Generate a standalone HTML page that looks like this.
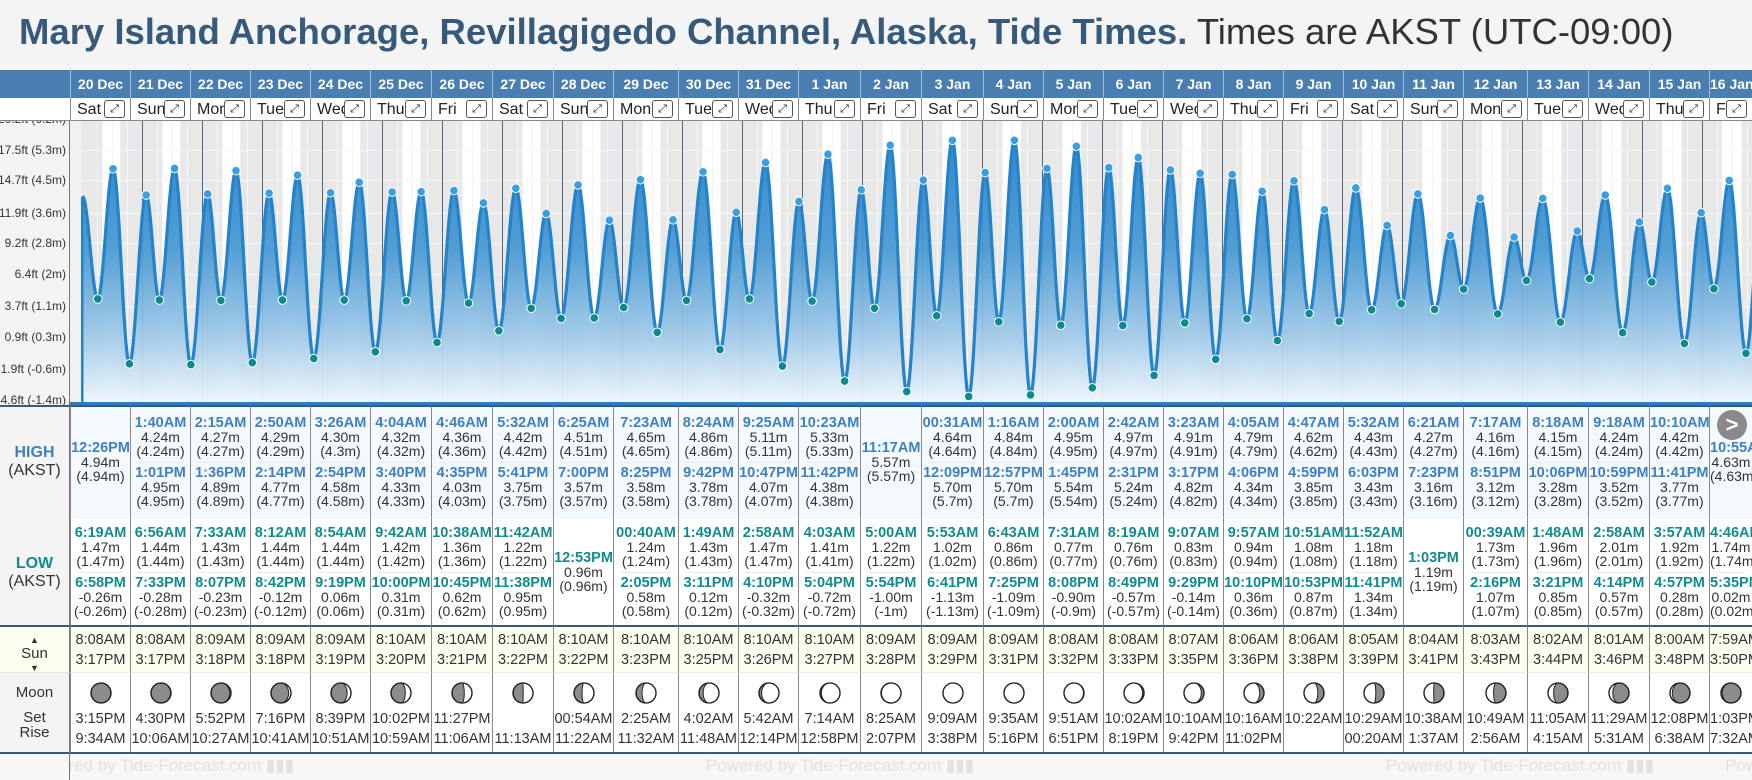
<!DOCTYPE html>
<html><head><meta charset="utf-8">
<style>
*{margin:0;padding:0;box-sizing:border-box}
body{width:1752px;height:780px;overflow:hidden;background:#f4f4f4;font-family:"Liberation Sans",Arial,sans-serif;position:relative;color:#333}
.abs{position:absolute}
#title{left:19px;top:12px;font-size:36.5px;line-height:40px;white-space:nowrap;color:#333}
#title b{color:#375a7a}
.hdr{position:absolute;top:70px;height:28px;background:#4a7db0;color:#fff;font-weight:bold;font-size:14px;line-height:28px;text-align:center;border-left:1px solid #9dbad6;overflow:hidden;white-space:nowrap}
.dow{position:absolute;top:98px;height:23px;background:#fff;font-size:16px;line-height:23px;border-left:1px solid #888;border-bottom:1px solid #888;color:#222;padding-left:6px;overflow:hidden;white-space:nowrap}
.dow .ex{position:absolute;right:5px;top:2px;width:21px;height:18px;border:1px solid #555;border-radius:3px;font-size:11px;line-height:16px;text-align:center;background:#fff}
.col{position:absolute;border-left:1px solid #888;text-align:center;display:flex;flex-direction:column;justify-content:center;align-items:stretch;overflow:hidden;white-space:nowrap}
.ent{height:42px}
.ent .t{font-weight:bold;font-size:14.5px;line-height:14px}
.ent .v{font-size:14px;line-height:14px}
.sep{height:1px;background:#e4ebf2;margin:4px 7px 3px}
.hi .t{color:#3f80c2}
.lo .t{color:#128b8e}
.sun{font-size:14.5px;line-height:20px}
.lab{position:absolute;left:0;width:70px;text-align:center;border-right:1px solid #777}
.foot{position:absolute;top:752px;font-size:17px;color:#e2e2e2;white-space:nowrap;line-height:28px;overflow:hidden}
</style></head><body>
<div id="title" class="abs"><b>Mary Island Anchorage, Revillagigedo Channel, Alaska, Tide Times.</b> Times are AKST (UTC-09:00)</div>

<svg class="abs" style="left:0;top:121px" width="1752" height="284" viewBox="0 121 1752 284" id="chart"></svg>

<div class="abs" style="left:0;top:70px;width:70px;height:28px;background:#4a7db0"></div>
<div class="abs" style="left:0;top:98px;width:70px;height:23px;background:#fff;border-bottom:1px solid #888"></div>

<div class="lab" style="top:405px;height:112px;background:#f4f4f4;border-top:2px solid #3a5a78;padding-top:37px;font-size:16px;line-height:18px"><b style="color:#3f80c2">HIGH</b><br>(AKST)</div>
<div class="lab" style="top:517px;height:108px;background:#f4f4f4;padding-top:38px;font-size:16px;line-height:18px"><b style="color:#128b8e">LOW</b><br>(AKST)</div>
<div class="lab" style="top:625px;height:47px;background:#fdfdf0;border-top:2px solid #3a5a78;font-size:15px;line-height:13px;padding-top:5px"><span style="font-size:9px">▲</span><br>Sun<br><span style="font-size:9px">▼</span></div>
<div class="lab" style="top:672px;height:80px;background:#f4f4f4;border-top:1px solid #e6e6e6;font-size:15px;line-height:20px;padding-top:10px">Moon<br><span style="line-height:30px">Set</span><br><span style="position:relative;top:-10px">Rise</span></div>
<div class="abs" style="left:0;top:752px;width:1752px;height:28px;background:#f7f7f7;border-top:2px solid #3a5a78"></div>
<div class="abs" style="left:69px;top:752px;width:1px;height:28px;background:#777"></div>

<div id="cols"></div>

<div class="foot" style="left:70px;width:240px"><span style="margin-left:-44px">Powered by Tide-Forecast.com ▮▮▮</span></div>
<div class="foot" style="left:706px">Powered by Tide-Forecast.com ▮▮▮</div>
<div class="foot" style="left:1386px">Powered by Tide-Forecast.com ▮▮▮</div>
<div class="foot" style="left:1725px;width:27px">Powered</div>

<div class="abs" style="left:1717px;top:410px;width:30px;height:30px;border-radius:50%;background:#8a8a8a;color:#fff;font-weight:bold;font-size:22px;line-height:30px;text-align:center">&gt;</div>

<script>
var D=[
["20 Dec",[["12:26PM","4.94"]],[["6:19AM","1.47"],["6:58PM","-0.26"]],"8:08AM","3:17PM","3:15PM","9:34AM"],
["21 Dec",[["1:40AM","4.24"],["1:01PM","4.95"]],[["6:56AM","1.44"],["7:33PM","-0.28"]],"8:08AM","3:17PM","4:30PM","10:06AM"],
["22 Dec",[["2:15AM","4.27"],["1:36PM","4.89"]],[["7:33AM","1.43"],["8:07PM","-0.23"]],"8:09AM","3:18PM","5:52PM","10:27AM"],
["23 Dec",[["2:50AM","4.29"],["2:14PM","4.77"]],[["8:12AM","1.44"],["8:42PM","-0.12"]],"8:09AM","3:18PM","7:16PM","10:41AM"],
["24 Dec",[["3:26AM","4.30"],["2:54PM","4.58"]],[["8:54AM","1.44"],["9:19PM","0.06"]],"8:09AM","3:19PM","8:39PM","10:51AM"],
["25 Dec",[["4:04AM","4.32"],["3:40PM","4.33"]],[["9:42AM","1.42"],["10:00PM","0.31"]],"8:10AM","3:20PM","10:02PM","10:59AM"],
["26 Dec",[["4:46AM","4.36"],["4:35PM","4.03"]],[["10:38AM","1.36"],["10:45PM","0.62"]],"8:10AM","3:21PM","11:27PM","11:06AM"],
["27 Dec",[["5:32AM","4.42"],["5:41PM","3.75"]],[["11:42AM","1.22"],["11:38PM","0.95"]],"8:10AM","3:22PM","","11:13AM"],
["28 Dec",[["6:25AM","4.51"],["7:00PM","3.57"]],[["12:53PM","0.96"]],"8:10AM","3:22PM","00:54AM","11:22AM"],
["29 Dec",[["7:23AM","4.65"],["8:25PM","3.58"]],[["00:40AM","1.24"],["2:05PM","0.58"]],"8:10AM","3:23PM","2:25AM","11:32AM"],
["30 Dec",[["8:24AM","4.86"],["9:42PM","3.78"]],[["1:49AM","1.43"],["3:11PM","0.12"]],"8:10AM","3:25PM","4:02AM","11:48AM"],
["31 Dec",[["9:25AM","5.11"],["10:47PM","4.07"]],[["2:58AM","1.47"],["4:10PM","-0.32"]],"8:10AM","3:26PM","5:42AM","12:14PM"],
["1 Jan",[["10:23AM","5.33"],["11:42PM","4.38"]],[["4:03AM","1.41"],["5:04PM","-0.72"]],"8:10AM","3:27PM","7:14AM","12:58PM"],
["2 Jan",[["11:17AM","5.57"]],[["5:00AM","1.22"],["5:54PM","-1.00"]],"8:09AM","3:28PM","8:25AM","2:07PM"],
["3 Jan",[["00:31AM","4.64"],["12:09PM","5.70"]],[["5:53AM","1.02"],["6:41PM","-1.13"]],"8:09AM","3:29PM","9:09AM","3:38PM"],
["4 Jan",[["1:16AM","4.84"],["12:57PM","5.70"]],[["6:43AM","0.86"],["7:25PM","-1.09"]],"8:09AM","3:31PM","9:35AM","5:16PM"],
["5 Jan",[["2:00AM","4.95"],["1:45PM","5.54"]],[["7:31AM","0.77"],["8:08PM","-0.90"]],"8:08AM","3:32PM","9:51AM","6:51PM"],
["6 Jan",[["2:42AM","4.97"],["2:31PM","5.24"]],[["8:19AM","0.76"],["8:49PM","-0.57"]],"8:08AM","3:33PM","10:02AM","8:19PM"],
["7 Jan",[["3:23AM","4.91"],["3:17PM","4.82"]],[["9:07AM","0.83"],["9:29PM","-0.14"]],"8:07AM","3:35PM","10:10AM","9:42PM"],
["8 Jan",[["4:05AM","4.79"],["4:06PM","4.34"]],[["9:57AM","0.94"],["10:10PM","0.36"]],"8:06AM","3:36PM","10:16AM","11:02PM"],
["9 Jan",[["4:47AM","4.62"],["4:59PM","3.85"]],[["10:51AM","1.08"],["10:53PM","0.87"]],"8:06AM","3:38PM","10:22AM",""],
["10 Jan",[["5:32AM","4.43"],["6:03PM","3.43"]],[["11:52AM","1.18"],["11:41PM","1.34"]],"8:05AM","3:39PM","10:29AM","00:20AM"],
["11 Jan",[["6:21AM","4.27"],["7:23PM","3.16"]],[["1:03PM","1.19"]],"8:04AM","3:41PM","10:38AM","1:37AM"],
["12 Jan",[["7:17AM","4.16"],["8:51PM","3.12"]],[["00:39AM","1.73"],["2:16PM","1.07"]],"8:03AM","3:43PM","10:49AM","2:56AM"],
["13 Jan",[["8:18AM","4.15"],["10:06PM","3.28"]],[["1:48AM","1.96"],["3:21PM","0.85"]],"8:02AM","3:44PM","11:05AM","4:15AM"],
["14 Jan",[["9:18AM","4.24"],["10:59PM","3.52"]],[["2:58AM","2.01"],["4:14PM","0.57"]],"8:01AM","3:46PM","11:29AM","5:31AM"],
["15 Jan",[["10:10AM","4.42"],["11:41PM","3.77"]],[["3:57AM","1.92"],["4:57PM","0.28"]],"8:00AM","3:48PM","12:08PM","6:38AM"],
["16 Jan",[["10:55AM","4.63"]],[["4:46AM","1.74"],["5:35PM","0.02"]],"7:59AM","3:50PM","1:03PM","7:32AM"]
];
var DOW=["Sat","Sun","Mon","Tue","Wed","Thu","Fri"];
var X=[70,130,190,250,310,370,431,492,553,613,678,738,798,860,921,983,1043,1103,1163,1223,1283,1343,1403,1463,1527,1588,1649,1709,1752];
function hrs(s){var m=s.match(/(\d+):(\d+)(AM|PM)/);var h=+m[1]%12;if(m[3]=="PM")h+=12;return h+ +m[2]/60;}
function ent(e){return '<div class="ent"><div class="t">'+e[0]+'</div><div class="v">'+e[1]+'m</div><div class="v">('+parseFloat(e[1])+'m)</div></div>';}
function moon(i){
  var ph=((i+0.3)/29.53)%1, k=(1-Math.cos(2*Math.PI*ph))/2;
  var rx=Math.abs(1-2*k)*10, p;
  if(ph<0.5){p='M0,-10 A10,10 0 0 1 0,10 A'+rx+',10 0 0 '+(k<0.5?0:1)+' 0,-10Z';}
  else{p='M0,-10 A10,10 0 0 0 0,10 A'+rx+',10 0 0 '+(k<0.5?1:0)+' 0,-10Z';}
  return '<svg width="24" height="24" viewBox="-12 -12 24 24" style="display:block;margin:0 auto"><circle r="10" fill="#8c8c8c" stroke="#222" stroke-width="1.3"/><path d="'+p+'" fill="#fff" stroke="#222" stroke-width="1"/><circle r="10" fill="none" stroke="#222" stroke-width="1.3"/></svg>';
}
var h='';
for(var i=0;i<D.length;i++){
  var d=D[i],l=X[i],w=X[i+1]-X[i];
  h+='<div class="hdr" style="left:'+l+'px;width:'+w+'px">'+d[0]+'</div>';
  h+='<div class="dow" style="left:'+l+'px;width:'+w+'px">'+DOW[i%7]+'<span class="ex">⤢</span></div>';
  var hi=d[1].map(ent).join('<div class="sep"></div>');
  var lo=d[2].map(ent).join('<div class="sep"></div>');
  h+='<div class="col hi" style="left:'+l+'px;width:'+w+'px;top:405px;height:112px;background:#f4f9fe;border-top:2px solid #3a5a78">'+hi+'</div>';
  h+='<div class="col lo" style="left:'+l+'px;width:'+w+'px;top:517px;height:108px;background:#fff;border-top:1px solid #eef1f4">'+lo+'</div>';
  h+='<div class="col sun" style="left:'+l+'px;width:'+w+'px;top:625px;height:47px;background:#fdfdf0;border-top:2px solid #3a5a78">'+d[3]+'<br>'+d[4]+'</div>';
  h+='<div class="col" style="left:'+l+'px;width:'+w+'px;top:672px;height:80px;background:#fff;border-top:1px solid #ececec;justify-content:flex-start;padding-top:8px;font-size:14.5px;line-height:20px">'+moon(i)+'<div style="margin-top:4px">'+(d[5]||'&nbsp;')+'</div><div>'+(d[6]||'&nbsp;')+'</div></div>';
}
document.getElementById('cols').innerHTML=h;

var Y=function(m){return 154+(5.334-m)*37.5;};
var XT=function(t){return 82+t*2.5;};
var ex=[{t:0.2,h:4.2,k:0}];
D.forEach(function(d,i){d[1].forEach(function(e){ex.push({t:i*24+hrs(e[0]),h:+e[1],k:1});});d[2].forEach(function(e){ex.push({t:i*24+hrs(e[0]),h:+e[1],k:2});});});
ex.push({t:27*24+23.8,h:3.95,k:0});
ex.sort(function(a,b){return a.t-b.t;});
var s='<defs><linearGradient id="g" gradientUnits="userSpaceOnUse" x1="0" y1="121" x2="0" y2="405"><stop offset="0" stop-color="#1a7bc9"/><stop offset="0.45" stop-color="#4597d2"/><stop offset="0.75" stop-color="#9cc7e7"/><stop offset="1" stop-color="#f2f8fd"/></linearGradient><clipPath id="c"><rect x="70" y="121" width="1682" height="284"/></clipPath></defs>';
s+='<rect x="0" y="121" width="70" height="284" fill="#f4f4f4"/><rect x="69" y="121" width="1" height="284" fill="#777"/>';
s+='<g clip-path="url(#c)"><rect x="70" y="121" width="1682" height="284" fill="#f0f0f0"/><rect x="82" y="121" width="1670" height="284" fill="#e8e8e8"/>';
D.forEach(function(d,i){var a=XT(i*24+hrs(d[3])),b=XT(i*24+hrs(d[4]));s+='<rect x="'+a+'" y="121" width="'+(b-a)+'" height="284" fill="#fff"/>';
 [6,18].forEach(function(q){s+='<rect x="'+XT(i*24+q)+'" y="121" width="1" height="284" fill="#f6f6f6"/>';});
 s+='<rect x="'+XT(i*24+12)+'" y="121" width="1" height="284" fill="#f3f3f3"/>';});
[150,180,213,243,274,306,337,369,400].forEach(function(y){s+='<rect x="82" y="'+y+'" width="1670" height="1" fill="#f7f7f7"/>';});
for(var i=1;i<29;i++)s+='<rect x="'+(XT(i*24))+'" y="121" width="1" height="284" fill="#51687f"/>';
var line='';
for(var j=0;j<ex.length-1;j++){var a=ex[j],b=ex[j+1];for(var t=a.t;t<b.t;t+=0.2){var f=(1-Math.cos(Math.PI*(t-a.t)/(b.t-a.t)))/2;var v=a.h+(b.h-a.h)*f;line+=(line?'L':'M')+XT(t).toFixed(1)+','+Y(v).toFixed(1);}}
line+='L'+XT(ex[ex.length-1].t).toFixed(1)+','+Y(ex[ex.length-1].h).toFixed(1);
s+='<path d="'+line+'L'+XT(ex[ex.length-1].t).toFixed(1)+',405L82,405Z" fill="url(#g)" opacity="0.92"/>';
s+='<path d="'+line+'" fill="none" stroke="#2483c9" stroke-width="3.2" stroke-linejoin="round"/>';
s+='<rect x="81" y="'+Y(4.2)+'" width="2.5" height="300" fill="#2483c9"/>';
ex.forEach(function(e){if(e.k)s+='<circle cx="'+XT(e.t)+'" cy="'+Y(e.h)+'" r="4.3" fill="'+(e.k==1?'#3a9fe2':'#0c8a8c')+'" stroke="#fff" stroke-width="1"/>';});
s+='<rect x="70" y="402" width="1682" height="3" fill="#2f7fc0"/></g>';
var labs=[["20.2ft (6.2m)",119],["17.5ft (5.3m)",150],["14.7ft (4.5m)",180],["11.9ft (3.6m)",213],["9.2ft (2.8m)",243],["6.4ft (2m)",274],["3.7ft (1.1m)",306],["0.9ft (0.3m)",337],["-1.9ft (-0.6m)",369],["-4.6ft (-1.4m)",400]];
labs.forEach(function(a){s+='<text x="66" y="'+(a[1]+4)+'" text-anchor="end" font-family="Liberation Sans,Arial,sans-serif" font-size="12" fill="#333">'+a[0]+'</text>';});
document.getElementById('chart').innerHTML=s;
</script>
</body></html>
